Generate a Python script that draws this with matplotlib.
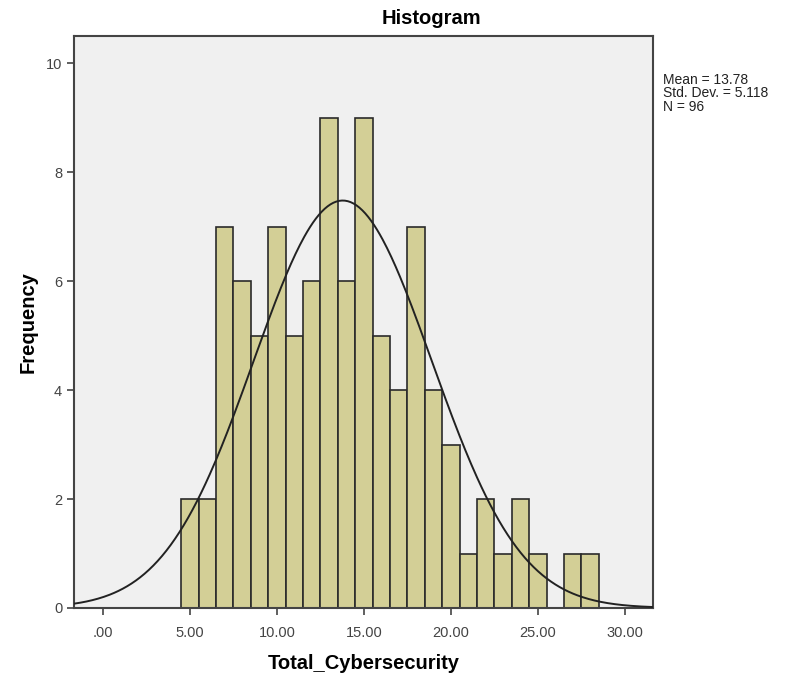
import matplotlib
matplotlib.use("Agg")
import matplotlib.pyplot as plt
import numpy as np

plt.rcParams['font.family'] = ['Liberation Sans', 'DejaVu Sans']

# histogram counts, bin width 1, first bin starts at 4.5
bin_start = 4.5
bin_width = 1.0
counts = [2, 2, 7, 6, 5, 7, 5, 6, 9, 6, 9, 5, 4, 7, 4, 3, 1, 2, 1, 2, 1, 0, 1, 1]
mean = 13.78
std_dev = 5.118
n_obs = 96
xticks = [0, 5, 10, 15, 20, 25, 30]
xtick_labels = ['.00', '5.00', '10.00', '15.00', '20.00', '25.00', '30.00']
yticks = [0, 2, 4, 6, 8, 10]


def main():
    fig = plt.figure(figsize=(7.95, 6.79), dpi=100)
    ax = fig.add_axes([0.093, 0.1046, 0.728, 0.842])
    ax.set_facecolor('#f0f0f0')

    lefts = bin_start + bin_width * np.arange(len(counts))
    ax.bar(lefts, counts, width=bin_width, align='edge', color='#d3cf96',
           edgecolor='#2a2a2a', linewidth=1.2, zorder=2)

    # normal curve scaled to counts
    xs = np.linspace(-1.7, 31.6, 400)
    ys = n_obs * bin_width / (std_dev * np.sqrt(2 * np.pi)) * np.exp(-0.5 * ((xs - mean) / std_dev) ** 2)
    ax.plot(xs, ys, color='#222222', lw=1.4, zorder=3)

    ax.set_xlim(-1.67, 31.6)
    ax.set_ylim(0, 10.5)
    ax.set_xticks(xticks)
    ax.set_xticklabels(xtick_labels)
    ax.set_yticks(yticks)
    ax.tick_params(labelsize=10.5, colors='#444444', length=5, width=1.2)
    ax.tick_params(axis='x', pad=8)
    for sp in ax.spines.values():
        sp.set_color('#444444')
        sp.set_linewidth(1.5)

    ax.set_xlabel('Total_Cybersecurity', fontsize=14.5, fontweight='bold', labelpad=10)
    ax.set_ylabel('Frequency', fontsize=14.5, fontweight='bold', labelpad=6)
    fig.text(431 / 795, 1 - 19 / 679, 'Histogram', fontsize=14.5, fontweight='bold',
             ha='center', va='center')

    fig.text(0.834, 0.893, 'Mean = %.2f\nStd. Dev. = %.3f\nN = %d' % (mean, std_dev, n_obs),
             fontsize=10, va='top', ha='left', color='#222222', linespacing=0.95)

    fig.savefig('out.png', dpi=100)


if __name__ == '__main__':
    main()
